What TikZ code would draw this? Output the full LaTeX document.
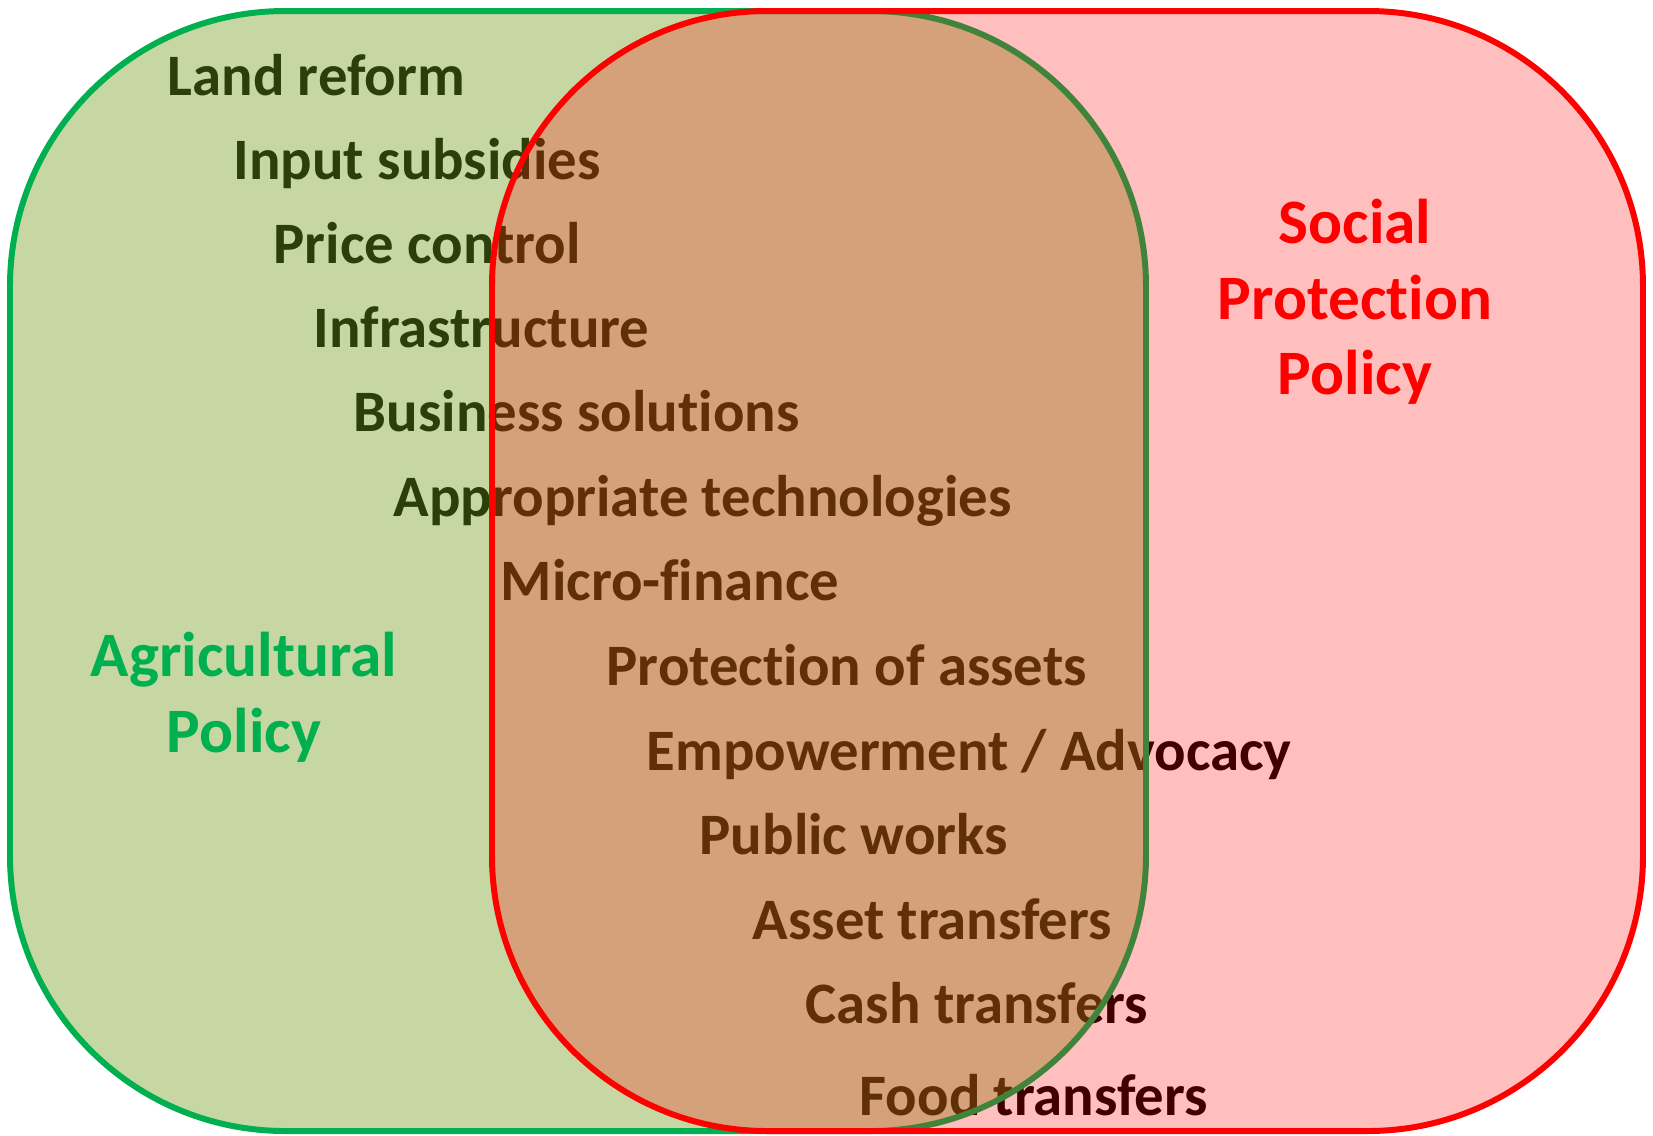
\documentclass[tikz,border=0pt]{standalone}
\usepackage{fontspec}
\setmainfont{Carlito}[Ligatures=NoCommon]
\definecolor{agrigreen}{RGB}{0,176,80}
\definecolor{agrifill}{RGB}{112,155,25}
\definecolor{socialred}{RGB}{255,0,0}
\begin{document}
\begin{tikzpicture}[x=0.01cm,y=-0.01cm,
 item/.style={anchor=base west,inner sep=0pt,font=\bfseries\fontsize{16.7}{20}\selectfont,text=black},
 setlabel/.style={align=center,inner sep=0pt,font=\bfseries\fontsize{18}{21.5}\selectfont},
 agriset/.style={draw=agrigreen,line width=1.7pt,fill=agrifill,fill opacity=0.4,rounded corners=2.75cm},
 socialset/.style={draw=socialred,line width=1.7pt,fill=socialred,fill opacity=0.25,rounded corners=2.75cm}]
 \useasboundingbox (0,0) rectangle (1653,1135);
 \node (item 1) at (167,95) [item] {Land reform};
 \node (item 2) at (233,179) [item] {Input subsidies};
 \node (item 3) at (273,263) [item] {Price control};
 \node (item 4) at (313,347) [item] {Infrastructure};
 \node (item 5) at (353,431) [item] {Business solutions};
 \node (item 6) at (393,516) [item] {Appropriate technologies};
 \node (item 7) at (500,600) [item] {Micro-finance};
 \node (item 8) at (606,685) [item] {Protection of assets};
 \node (item 9) at (646,770) [item] {Empowerment / Advocacy};
 \node (item 10) at (699,854) [item] {Public works};
 \node (item 11) at (752,939) [item] {Asset transfers};
 \node (item 12) at (805,1023) [item] {Cash transfers};
 \node (item 13) at (859,1115) [item] {Food transfers};
 \draw [agriset] (10,11) rectangle (1146,1131);
 \draw [socialset] (492,11) rectangle (1643,1131);
 \node (agri) at (244,697) [setlabel,text=agrigreen] {Agricultural\\Policy};
 \node (social) at (1355,302) [setlabel,text=socialred] {Social\\Protection\\Policy};
\end{tikzpicture}
\end{document}
